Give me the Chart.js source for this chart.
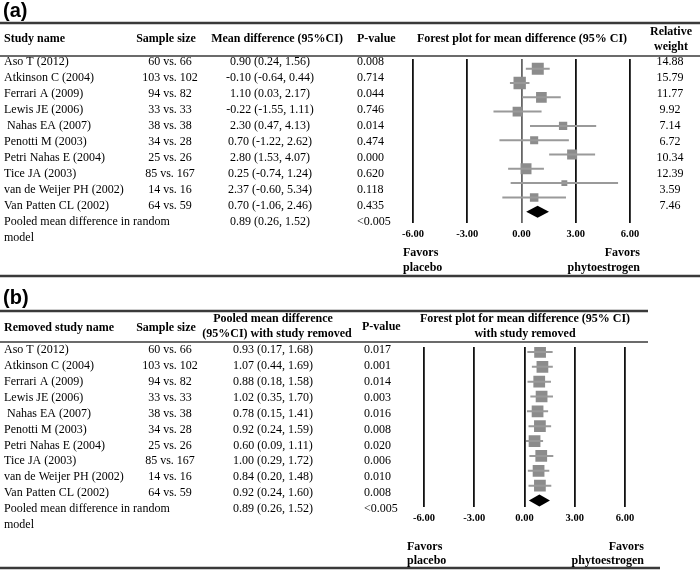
<!DOCTYPE html>
<html>
<head>
<meta charset="utf-8">
<script src="https://cdn.jsdelivr.net/npm/chart.js@4/dist/chart.umd.min.js"></script>
<style>
  html, body { margin: 0; padding: 0; background: #fff; }
  #wrap { position: relative; width: 700px; height: 571px; }
  canvas { position: absolute; left: 0; }
  #panelA { top: 0; }
  #panelB { top: 280px; }
</style>
</head>
<body>
<div id="wrap">
  <canvas id="panelA" width="700" height="280"></canvas>
  <canvas id="panelB" width="700" height="291"></canvas>
</div>
<script>
// ---- data ----
const studies = ["Aso T (2012)", "Atkinson C (2004)", "Ferrari A (2009)", "Lewis JE (2006)", " Nahas EA (2007)",
  "Penotti M (2003)", "Petri Nahas E (2004)", "Tice JA (2003)", "van de Weijer PH (2002)", "Van Patten CL (2002)"];
const sampleSizes = ["60 vs. 66", "103 vs. 102", "94 vs. 82", "33 vs. 33", "38 vs. 38",
  "34 vs. 28", "25 vs. 26", "85 vs. 167", "14 vs. 16", "64 vs. 59"];

// (a) individual studies
const mdA = [0.90, -0.10, 1.10, -0.22, 2.30, 0.70, 2.80, 0.25, 2.37, 0.70];
const loA = [0.24, -0.64, 0.03, -1.55, 0.47, -1.22, 1.53, -0.74, -0.60, -1.06];
const hiA = [1.56, 0.44, 2.17, 1.11, 4.13, 2.62, 4.07, 1.24, 5.34, 2.46];
const pA = ["0.008", "0.714", "0.044", "0.746", "0.014", "0.474", "0.000", "0.620", "0.118", "0.435"];
const weightA = [14.88, 15.79, 11.77, 9.92, 7.14, 6.72, 10.34, 12.39, 3.59, 7.46];

// (b) leave-one-out
const mdB = [0.93, 1.07, 0.88, 1.02, 0.78, 0.92, 0.60, 1.00, 0.84, 0.92];
const loB = [0.17, 0.44, 0.18, 0.35, 0.15, 0.24, 0.09, 0.29, 0.20, 0.24];
const hiB = [1.68, 1.69, 1.58, 1.70, 1.41, 1.59, 1.11, 1.72, 1.48, 1.60];
const pB = ["0.017", "0.001", "0.014", "0.003", "0.016", "0.008", "0.020", "0.006", "0.010", "0.008"];

// pooled (random model)
const pooledMd = 0.89;
const pooledLo = 0.26;
const pooledHi = 1.52;
const pooledP = "<0.005";

const xTicks = [-6, -3, 0, 3, 6];

// ---- helpers ----
const SERIF = '"Liberation Serif", "Times New Roman", serif';
const BODY = `12px ${SERIF}`;
const BOLD = `bold 12px ${SERIF}`;
const ci = (m, l, h) => `${m.toFixed(2)} (${l.toFixed(2)}, ${h.toFixed(2)})`;

function text(ctx, s, x, y, align, font) {
  ctx.font = font;
  ctx.textAlign = align;
  ctx.textBaseline = "middle";
  ctx.fillStyle = "#000";
  ctx.fillText(s, x, y);
}

function rule(ctx, x0, x1, y, w) {
  ctx.strokeStyle = "#3a3a3a";
  ctx.lineWidth = w;
  ctx.beginPath();
  ctx.moveTo(x0, y);
  ctx.lineTo(x1, y);
  ctx.stroke();
}

function ciLines(lo, hi, color) {
  return lo.map((l, i) => ({
    type: "scatter",
    showLine: true,
    data: [{ x: l, y: i }, { x: hi[i], y: i }],
    borderColor: color,
    borderWidth: 2,
    pointRadius: 0
  }));
}

// diamond for the pooled estimate, placed with the chart's own scales
const diamond = {
  id: "diamond",
  afterDatasetsDraw(chart, args, opts) {
    const { ctx, scales: { x, y } } = chart;
    const cy = y.getPixelForValue(studies.length);
    ctx.save();
    ctx.fillStyle = "#000";
    ctx.beginPath();
    ctx.moveTo(x.getPixelForValue(pooledLo), cy);
    ctx.lineTo(x.getPixelForValue(pooledMd), cy - opts.half);
    ctx.lineTo(x.getPixelForValue(pooledHi), cy);
    ctx.lineTo(x.getPixelForValue(pooledMd), cy + opts.half);
    ctx.closePath();
    ctx.fill();
    ctx.restore();
  }
};

function forestOptions(pad, yMin, yMax, zeroColor) {
  return {
    responsive: false,
    animation: false,
    layout: { padding: pad },
    plugins: { legend: { display: false }, tooltip: { enabled: false }, diamond: { half: 6 } },
    scales: {
      x: {
        type: "linear",
        min: -6, max: 6,
        afterBuildTicks: s => { s.ticks = xTicks.map(v => ({ value: v })); },
        border: { display: false },
        grid: {
          drawTicks: false,
          color: c => (c.tick && c.tick.value === 0 ? zeroColor : "#111"),
          lineWidth: 1.8
        },
        ticks: {
          padding: 5,
          color: "#000",
          font: { family: SERIF, size: 10.5, weight: "bold" },
          callback: v => v.toFixed(2)
        }
      },
      y: { type: "linear", reverse: true, min: yMin, max: yMax, display: false }
    }
  };
}

// ---- panel (a) ----
const tableA = {
  id: "tableA",
  afterDraw(chart) {
    const ctx = chart.ctx;
    ctx.save();
    text(ctx, "(a)", 3, 11, "left", 'bold 20px "Liberation Sans", Arial, sans-serif');
    rule(ctx, 0, 700, 23, 2.5);
    rule(ctx, 0, 700, 56, 1.6);
    rule(ctx, 0, 700, 276, 2.5);

    text(ctx, "Study name", 4, 39, "left", BOLD);
    text(ctx, "Sample size", 166, 39, "center", BOLD);
    text(ctx, "Mean difference (95%CI)", 277, 39, "center", BOLD);
    text(ctx, "P-value", 357, 39, "left", BOLD);
    text(ctx, "Forest plot for mean difference (95% CI)", 522, 39, "center", BOLD);
    text(ctx, "Relative", 671, 32, "center", BOLD);
    text(ctx, "weight", 671, 47, "center", BOLD);

    studies.forEach((s, i) => {
      const y = 61.7 + i * 16;
      text(ctx, s, 4, y, "left", BODY);
      text(ctx, sampleSizes[i], 170, y, "center", BODY);
      text(ctx, ci(mdA[i], loA[i], hiA[i]), 270, y, "center", BODY);
      text(ctx, pA[i], 357, y, "left", BODY);
      text(ctx, weightA[i].toFixed(2), 670, y, "center", BODY);
    });
    const yp = 61.7 + studies.length * 16;
    text(ctx, "Pooled mean difference in random", 4, yp, "left", BODY);
    text(ctx, "model", 4, yp + 16, "left", BODY);
    text(ctx, ci(pooledMd, pooledLo, pooledHi), 270, yp, "center", BODY);
    text(ctx, pooledP, 357, yp, "left", BODY);

    const fav = `bold 12px ${SERIF}`;
    text(ctx, "Favors", 403, 253, "left", fav);
    text(ctx, "placebo", 403, 268, "left", fav);
    text(ctx, "Favors", 640, 253, "right", fav);
    text(ctx, "phytoestrogen", 640, 268, "right", fav);
    ctx.restore();
  }
};

new Chart(document.getElementById("panelA"), {
  data: {
    datasets: [
      ...ciLines(loA, hiA, "#9a9a9a"),
      {
        type: "scatter",
        data: mdA.map((m, i) => ({ x: m, y: i })),
        pointStyle: "rect",
        pointRadius: weightA.map(w => Math.sqrt(w) * 2.2),
        backgroundColor: "#8c8c8c",
        borderColor: "#8c8c8c",
        borderWidth: 0
      }
    ]
  },
  options: forestOptions({ left: 413, right: 70, top: 59, bottom: 34 }, -0.68, 10.82, "#666"),
  plugins: [diamond, tableA]
});

// ---- panel (b) ----
const tableB = {
  id: "tableB",
  afterDraw(chart) {
    const ctx = chart.ctx;
    ctx.save();
    text(ctx, "(b)", 3, 18, "left", 'bold 20px "Liberation Sans", Arial, sans-serif');
    rule(ctx, 0, 648, 31, 2.5);
    rule(ctx, 0, 648, 62, 1.6);
    rule(ctx, 0, 660, 288, 2.5);

    text(ctx, "Removed study name", 4, 48, "left", BOLD);
    text(ctx, "Sample size", 166, 48, "center", BOLD);
    text(ctx, "Pooled mean difference", 273, 39, "center", BOLD);
    text(ctx, "(95%CI) with study removed", 277, 54, "center", BOLD);
    text(ctx, "P-value", 362, 47, "left", BOLD);
    text(ctx, "Forest plot for mean difference (95% CI)", 525, 39, "center", BOLD);
    text(ctx, "with study removed", 525, 54, "center", BOLD);

    studies.forEach((s, i) => {
      const y = 70 + i * 15.9;
      text(ctx, s, 4, y, "left", BODY);
      text(ctx, sampleSizes[i], 170, y, "center", BODY);
      text(ctx, ci(mdB[i], loB[i], hiB[i]), 273, y, "center", BODY);
      text(ctx, pB[i], 364, y, "left", BODY);
    });
    const yp = 70 + studies.length * 15.9;
    text(ctx, "Pooled mean difference in random", 4, yp, "left", BODY);
    text(ctx, "model", 4, yp + 15.9, "left", BODY);
    text(ctx, ci(pooledMd, pooledLo, pooledHi), 273, yp, "center", BODY);
    text(ctx, pooledP, 364, yp, "left", BODY);

    const fav = `bold 12px ${SERIF}`;
    text(ctx, "Favors", 407, 267, "left", fav);
    text(ctx, "placebo", 407, 281, "left", fav);
    text(ctx, "Favors", 644, 267, "right", fav);
    text(ctx, "phytoestrogen", 644, 281, "right", fav);
    ctx.restore();
  }
};

new Chart(document.getElementById("panelB"), {
  data: {
    datasets: [
      ...ciLines(loB, hiB, "#9a9a9a"),
      {
        type: "scatter",
        data: mdB.map((m, i) => ({ x: m, y: i })),
        pointStyle: "rect",
        pointRadius: 8.3,
        backgroundColor: "#8c8c8c",
        borderColor: "#8c8c8c",
        borderWidth: 0
      }
    ]
  },
  options: forestOptions({ left: 424, right: 75, top: 67, bottom: 41 }, -0.33, 10.46, "#111"),
  plugins: [diamond, tableB]
});
</script>
</body>
</html>
